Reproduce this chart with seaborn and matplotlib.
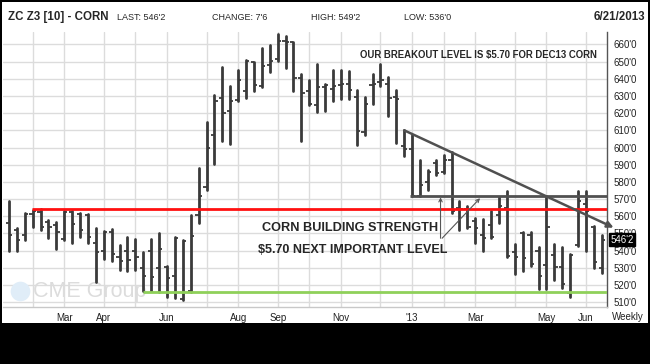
import numpy as np
import pandas as pd
import matplotlib
matplotlib.use('Agg')
import matplotlib.pyplot as plt
from matplotlib.patches import Rectangle
import seaborn as sns

# weekly bars, Dec13 corn (cents), weeks ending Fri 2012-01-13 .. 2013-06-21
opens = [556, 552, 549, 561.5, 562.5, 556.5, 555, 547, 562.5, 561.5, 560.5, 544.5, 540, 551, 536, 540,
         540, 530, 540, 530, 530.5, 525, 512, 516.5, 560.5, 577, 607, 629, 621, 627.5, 633, 649.5,
         636, 648, 651.5, 662, 661.5, 640.5, 633, 624.5, 635, 634, 636.5, 637, 629.5, 609, 636.5, 638,
         637, 629.5, 601, 599, 572, 580, 591, 586, 593, 565, 564, 557.5, 549, 555, 561, 565,
         539, 550, 549, 540, 531.5, 537.5, 530.5, 515.5, 543, 567, 553.5, 530]
highs = [569, 553, 562, 563.5, 564, 558, 556.5, 563, 563, 562, 561.5, 553, 551.5, 552.5, 543, 548,
         547, 539, 546.5, 550.5, 531, 548, 546, 561, 588, 615, 630.5, 647, 636, 645, 651, 650,
         658, 659.5, 666, 665, 661.5, 643, 639, 648.5, 637, 645, 645, 644.5, 633.5, 629.5, 642.5, 648.5,
         641, 633.5, 610, 607, 593, 587, 593, 595.5, 597.5, 569, 566, 559, 558.5, 563, 571, 574.5,
         544, 551, 551, 542, 572, 544, 542, 538, 574.5, 574.5, 554.5, 549.25]
lows = [540, 540, 546, 553.5, 552, 547.5, 541, 546, 544.5, 548, 544.5, 521.5, 535, 534, 529, 528,
        529, 516.5, 516.5, 516, 513, 512.5, 511.5, 516, 556, 575, 590.5, 604, 602, 627, 629, 633,
        635, 644, 650.5, 646, 633, 604, 624.5, 620.5, 621, 627, 628, 628.5, 601.5, 607.5, 625.5, 635.5,
        618.5, 602.5, 595, 571.5, 571.5, 575, 584, 585, 562, 552, 553, 544.5, 540, 547.5, 556, 536.5,
        526.5, 528, 531, 517.5, 517.5, 523, 518.5, 513, 542.5, 540, 530, 527]
closes = [549, 546, 561.5, 563, 553.5, 554, 551, 562.5, 555.5, 552, 548, 539, 551, 538, 534, 534.5,
          536, 525, 524.5, 541, 524, 547.5, 545.5, 548.5, 572, 600, 627, 620, 627, 639, 650.5, 636.5,
          647.5, 650.5, 662, 661.5, 640.5, 631.5, 625.5, 635, 636.5, 636, 637, 633.5, 609.5, 625.5, 637, 639,
          629, 628.5, 599, 572, 578, 586, 585, 592.5, 563, 564, 554, 553, 547.5, 548, 566, 537,
          536.5, 535.5, 532, 525, 554, 530.5, 520.5, 537.5, 569, 563, 533.5, 546.25]

month_labels = ['', 'Mar', 'Apr', '', 'Jun', '', 'Aug', 'Sep', '', 'Nov', '', "'13",
                '', 'Mar', '', 'May', 'Jun']
price_ticks = list(range(510, 670, 10))
last_price = "546'2"

red_level = 564.5
green_level = 516
breakout_level = 571.5
trend_start = (50, 610)
trend_end = (76.5, 553.4)

dates = pd.date_range('2012-01-13', periods=len(closes), freq='W-FRI')
df = pd.DataFrame({'date': dates, 'open': opens, 'high': highs, 'low': lows, 'close': closes})
df['week'] = np.arange(len(df))
month_pos = df.groupby(df['date'].dt.to_period('M'))['week'].min().values[1:]

hl = pd.concat([df[['week', 'high']].rename(columns={'high': 'price'}),
                df[['week', 'low']].rename(columns={'low': 'price'})])

sns.set_theme(style='white')
plt.rcParams['font.family'] = ['Liberation Sans', 'DejaVu Sans']

W, H = 650, 364
fig = plt.figure(figsize=(6.5, 3.64), dpi=100, facecolor='black')
fig.patches.append(Rectangle((2 / W, 41 / H), 646 / W, 321 / H, transform=fig.transFigure,
                             facecolor='white', edgecolor='none', zorder=-10))
ax = fig.add_axes([3 / W, 1 - 307 / H, 604 / W, 275 / H])
ax.set_zorder(1)
ax.set_facecolor('white')

xmax = 75.66
ax.set_xlim(-0.75, xmax)
ax.set_ylim(507.2, 667.2)

for y in price_ticks:
    ax.axhline(y, color='#dcdcdc', lw=1, zorder=0)
for x in month_pos:
    ax.axvline(x, color='#dcdcdc', lw=1, zorder=0)

# watermark
ax.scatter([1.4], [516.3], s=200, color='#e0edf8', zorder=1, linewidths=0)
ax.text(3.0, 516.3, 'CME Group', fontsize=15.5, color='#dcdcdc', va='center', ha='left', zorder=1)

bar_col = '#3a3a3a'
sns.lineplot(data=hl, x='week', y='price', units='week', estimator=None, color=bar_col,
             lw=2.0, ax=ax, zorder=3, legend=False)
ax.hlines(df['open'], df['week'] - 0.4, df['week'], color=bar_col, lw=1.3, zorder=3)
ax.hlines(df['close'], df['week'], df['week'] + 0.4, color=bar_col, lw=1.3, zorder=3)

ax.hlines(red_level, 2.9, xmax, color='#ff1010', lw=2, zorder=4)
ax.hlines(green_level, 16.9, xmax, color='#8fd05a', lw=2, zorder=4)
ax.hlines(breakout_level, 50.7, xmax, color='#505050', lw=2, zorder=4)
ax.annotate('', xy=trend_end, xytext=trend_start, annotation_clip=False,
            arrowprops=dict(arrowstyle='-|>', color='#505050', lw=1.8, mutation_scale=9,
                            shrinkA=0, shrinkB=0), zorder=8)

ax.annotate('', xy=(54.6, 571.0), xytext=(54.6, 547.2),
            arrowprops=dict(arrowstyle='->', color='#555555', lw=0.8, mutation_scale=6,
                            shrinkA=0, shrinkB=0), zorder=5)
ax.annotate('', xy=(59.6, 570.5), xytext=(54.8, 547.2),
            arrowprops=dict(arrowstyle='->', color='#555555', lw=0.8, mutation_scale=6,
                            shrinkA=0, shrinkB=0), zorder=5)

ax.text(44.4, 653.6, 'OUR BREAKOUT LEVEL IS $5.70 FOR DEC13 CORN', fontsize=6.9, fontweight='bold',
        va='center', ha='left', zorder=6)
ax.text(32.0, 553.0, 'CORN BUILDING STRENGTH', fontsize=9.2, fontweight='bold',
        va='center', ha='left', zorder=6)
ax.text(31.5, 540.2, '$5.70 NEXT IMPORTANT LEVEL', fontsize=9, fontweight='bold',
        va='center', ha='left', zorder=6)

ax.set_xticks(month_pos)
ax.set_xticklabels(month_labels)
ax.yaxis.tick_right()
ax.set_yticks(price_ticks)
ax.set_yticklabels([f"{v}'0" for v in price_ticks])
ax.tick_params(axis='y', length=0, pad=5, labelsize=7, labelcolor='#222222')
ax.tick_params(axis='x', length=0, pad=4, labelsize=7, labelcolor='#222222')
ax.set_xlabel('')
ax.set_ylabel('')
for s in ['left', 'top']:
    ax.spines[s].set_visible(False)
ax.spines['right'].set_color('#555555')
ax.spines['right'].set_linewidth(1)
ax.spines['bottom'].set_color('#c8c8c8')
ax.spines['bottom'].set_linewidth(1)

ax.text(1.006, 546.25, last_price, transform=ax.get_yaxis_transform(), fontsize=7, color='white',
        va='center', ha='left', zorder=7,
        bbox=dict(boxstyle='square,pad=0.15', facecolor='black', edgecolor='black'))

fig.text(628 / W, 1 - 317 / H, 'Weekly', fontsize=7, ha='center', va='center', color='#222222')

hy = 1 - 17 / H
fig.text(8 / W, hy, 'ZC Z3 [10] - CORN', fontsize=8.3, fontweight='bold', va='center', ha='left')
fig.text(117 / W, hy, "LAST: 546'2", fontsize=6.5, va='center', ha='left')
fig.text(212 / W, hy, "CHANGE: 7'6", fontsize=6.5, va='center', ha='left')
fig.text(311 / W, hy, "HIGH: 549'2", fontsize=6.5, va='center', ha='left')
fig.text(404 / W, hy, "LOW: 536'0", fontsize=6.5, va='center', ha='left')
fig.text(645 / W, hy, '6/21/2013', fontsize=8.3, fontweight='bold', va='center', ha='right')

fig.savefig('out.png', dpi=100, facecolor='black')
